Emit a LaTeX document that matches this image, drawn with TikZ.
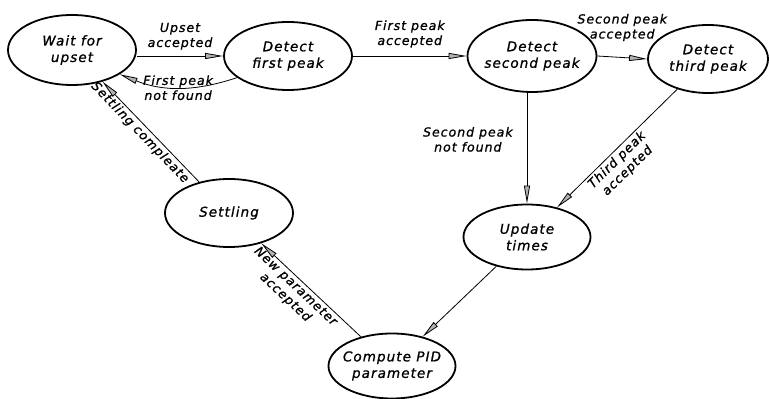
\documentclass[tikz,border=0pt]{standalone}
\usepackage{fontspec}
\newfontfamily\diafont{DejaVu Sans}[LetterSpace=8, FakeBold=1]
\usetikzlibrary{shapes.geometric, arrows.meta, positioning}

\begin{document}
\begin{tikzpicture}[x=1pt, y=1pt,
        state/.style={draw, ellipse, line width=1.8pt, inner xsep=-15pt, inner ysep=0pt, align=center, font=\diafont\itshape\fontsize{13.5}{16.5}\selectfont},
        trans/.style={line width=0.8pt, -{Triangle[length=18pt, width=6pt, fill=gray!60]}},
        lab/.style={align=center, inner sep=2pt, font=\diafont\itshape\fontsize{12.5}{15}\selectfont}]
        \useasboundingbox (0, 0) rectangle (769, 399);
        \node[state, minimum width=128, minimum height=70] (wait) at (72, 349) {Wait for\\upset};
        \node[state, minimum width=128, minimum height=68] (first) at (288, 343) {Detect\\first peak};
        \node[state, minimum width=129, minimum height=72] (second) at (532, 343) {Detect\\second peak};
        \node[state, minimum width=120, minimum height=68] (third) at (708, 340) {Detect\\third peak};
        \node[state, minimum width=128, minimum height=68] (settling) at (229, 186) {Settling};
        \node[state, minimum width=127, minimum height=65] (update) at (527, 162) {Update\\times};
        \node[state, minimum width=127, minimum height=65] (compute) at (392, 33) {Compute PID\\parameter};
        \draw[trans] (wait.east |- first.west) -- node[lab, above=4pt] {Upset\\accepted} (first.west);
        \draw[trans] (first.203) to[bend left=20] node[lab] {First peak\\not found} (wait.333);
        \draw[trans] (first) -- node[lab, above=6pt] {First peak\\accepted} (second);
        \draw[trans] (second.east) -- node[lab, above=14pt] {Second peak\\accepted} (third.west);
        \draw[trans] (second.south -| update.north) -- node[lab, left=12pt, pos=0.42] {Second peak\\not found} (update.north);
        \draw[trans] (third) -- node[lab, sloped, below, pos=0.55] {Third peak\\accepted} (update);
        \draw[trans] (update) -- (compute);
        \draw[trans] (compute) -- node[lab, sloped, below, pos=0.6] {New parameter\\accepted} (settling);
        \draw[trans] (settling) -- node[lab, sloped, below, pos=0.55] {Settling compleate} (wait);
    \end{tikzpicture}
\end{document}
